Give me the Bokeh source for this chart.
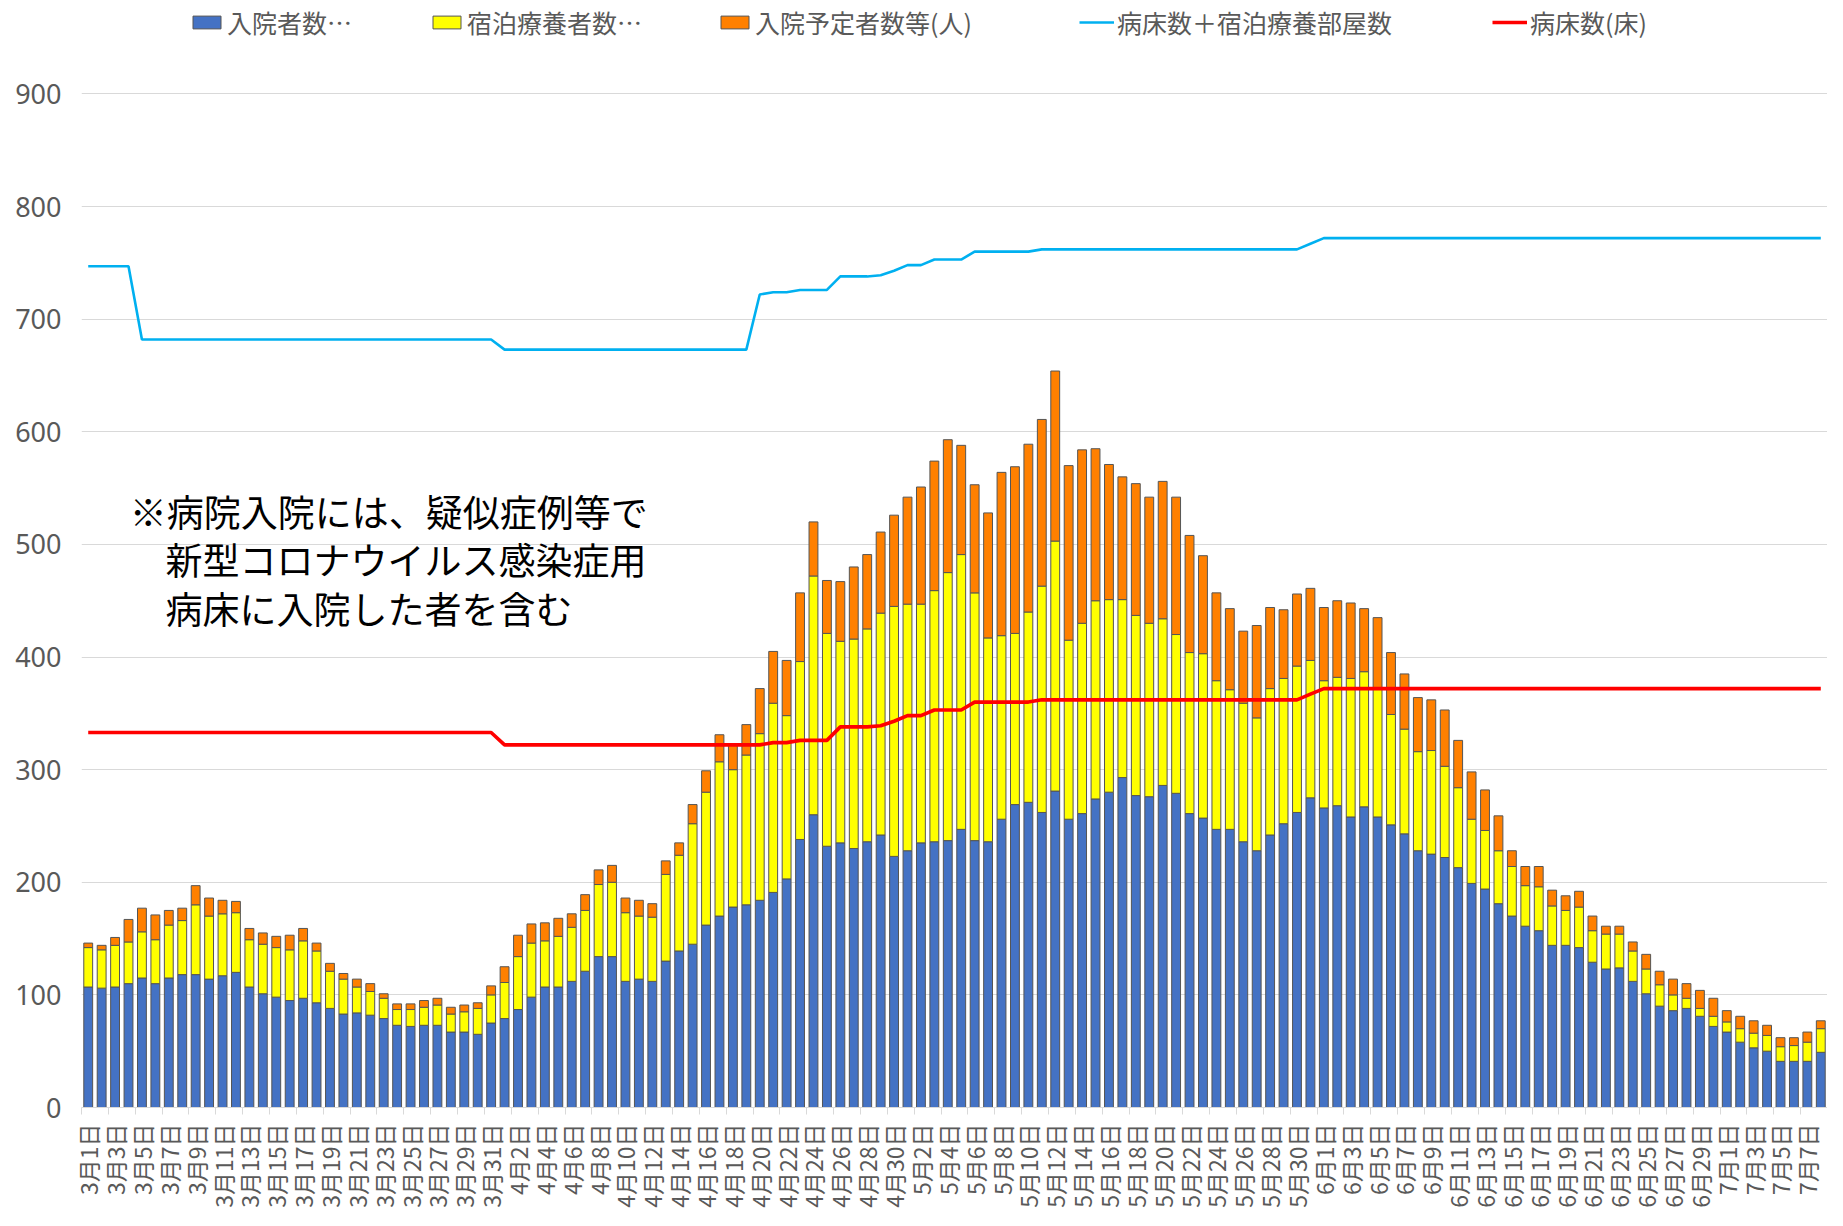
import math
import datetime
from bokeh.plotting import figure
from bokeh.models import ColumnDataSource, Range1d, FixedTicker, Legend, LegendItem, Label
from bokeh.embed import file_html
from bokeh.resources import INLINE

# ---- data (3/1 .. 7/8) ----
start_date = datetime.date(2020, 3, 1)
n_days = 130
date_labels = []
for i in range(n_days):
    d = start_date + datetime.timedelta(days=i)
    date_labels.append(f"{d.month}月{d.day}日")

hospitalized = [  # 入院者数
    107, 106, 107, 110, 115, 110, 115, 118, 118, 114, 117, 120, 107, 101, 98, 95, 97, 93, 88, 83,
    84, 82, 79, 73, 72, 73, 73, 67, 67, 65, 75,
    79, 87, 98, 107, 107, 112, 121, 134, 134, 112, 114, 112, 130, 139, 145, 162, 170, 178, 180, 184,
    191, 203, 238, 260, 232, 235, 230, 236, 242, 223,
    228, 235, 236, 237, 247, 237, 236, 256, 269, 271, 262, 281, 256, 261, 274, 280, 293, 277, 276, 286,
    279, 261, 257, 247, 247, 236, 228, 242, 252, 262, 275,
    266, 268, 258, 267, 258, 251, 243, 228, 225, 222, 213, 199, 194, 181, 170, 161, 157, 144, 144, 142,
    129, 123, 124, 112, 101, 90, 86, 88, 81, 72,
    67, 58, 53, 50, 41, 41, 41, 49,
]
hotel = [  # 宿泊療養者数
    35, 34, 37, 37, 41, 39, 47, 48, 62, 56, 55, 53, 42, 44, 44, 45, 51, 46, 33, 31,
    23, 21, 18, 14, 15, 16, 18, 16, 18, 23, 25,
    32, 47, 48, 41, 45, 48, 54, 64, 66, 61, 56, 57, 77, 85, 107, 118, 137, 122, 133, 148,
    168, 145, 158, 212, 189, 179, 186, 189, 197, 222,
    219, 212, 223, 238, 244, 220, 181, 163, 152, 169, 201, 222, 159, 169, 176, 171, 158, 160, 154, 148,
    141, 143, 146, 132, 124, 123, 118, 130, 129, 130, 122,
    113, 114, 123, 120, 114, 98, 93, 88, 92, 81, 71, 57, 52, 47, 44, 36, 39, 35, 31, 36,
    28, 31, 30, 27, 22, 19, 14, 9, 7, 9,
    9, 12, 13, 14, 13, 14, 17, 21,
]
planned = [  # 入院予定者数等(人)
    4, 4, 7, 20, 21, 22, 13, 11, 17, 16, 12, 10, 10, 10, 10, 13, 11, 7, 7, 5,
    7, 7, 4, 5, 5, 6, 6, 6, 6, 5, 8,
    14, 19, 17, 16, 16, 12, 14, 13, 15, 13, 14, 12, 12, 11, 17, 19, 24, 22, 27, 40,
    46, 49, 61, 48, 47, 53, 64, 66, 72, 81,
    95, 104, 115, 118, 97, 96, 111, 145, 148, 149, 148, 151, 155, 154, 135, 120, 109, 117, 112, 122,
    122, 104, 87, 78, 72, 64, 82, 72, 61, 64, 64,
    65, 68, 67, 56, 63, 55, 49, 48, 45, 50, 42, 42, 36, 31, 14, 17, 18, 14, 13, 14,
    13, 7, 7, 8, 13, 12, 14, 13, 16, 16,
    10, 11, 11, 9, 8, 7, 9, 7,
]
beds = (  # 病床数(床)
    [333] * 31 + [322] * 20 + [324, 324, 326, 326, 326, 338, 338, 338, 339, 343,
                               348, 348, 353, 353, 353, 360, 360, 360, 360, 360]
    + [362] * 20 + [367] + [372] * 38
)
beds_rooms = (  # 病床数＋宿泊療養部屋数
    [747] * 4 + [682] * 27 + [673] * 19 + [722, 724, 724, 726, 726, 726, 738, 738, 738, 739, 743,
                                          748, 748, 753, 753, 753, 760, 760, 760, 760, 760]
    + [762] * 20 + [767] + [772] * 38
)

y_ticks = list(range(0, 1000, 100))
note_lines = ["※病院入院には、疑似症例等で", "新型コロナウイルス感染症用", "病床に入院した者を含む"]
series_names = ["入院者数…", "宿泊療養者数…", "入院予定者数等(人)"]
line_names = ["病床数＋宿泊療養部屋数", "病床数(床)"]

xs = list(range(n_days))
src = ColumnDataSource(dict(x=xs, h=hospitalized, ho=hotel, pl=planned,
                            beds=beds, br=beds_rooms))

FONT = "Noto Sans CJK JP"
GRAY = "#595959"

W, H = 1827, 1210
TOP, BOTTOM, LEFT = 0, 97, 81
frame_h = H - TOP - BOTTOM
px_per_unit = (1113 - 94) / 900.0
y_top = frame_h / px_per_unit  # leaves room for the legend above the 900 line

p = figure(width=W, height=H, output_backend="svg", toolbar_location=None,
           x_range=Range1d(-0.5, n_days - 0.5), y_range=Range1d(0, y_top),
           min_border_left=LEFT, min_border_right=0, min_border_top=TOP, min_border_bottom=BOTTOM)
p.outline_line_color = None
p.background_fill_color = "white"

bars = p.vbar_stack(["h", "ho", "pl"], x="x", width=0.66, source=src,
                    fill_color=["#4472C4", "#FFFF00", "#FF8000"],
                    line_color="#555555", line_width=1)
l1 = p.line("x", "br", source=src, line_color="#00B0F0", line_width=2.6)
l2 = p.line("x", "beds", source=src, line_color="#FF0000", line_width=3.6)

# x axis
p.xaxis.ticker = FixedTicker(ticks=list(range(0, n_days, 2)),
                             minor_ticks=[i - 0.5 for i in range(0, n_days + 1, 2)])
p.xaxis.major_label_overrides = {i: date_labels[i] for i in range(0, n_days, 2)}
p.xaxis.major_label_orientation = math.pi / 2
p.xaxis.major_tick_line_color = None
p.xaxis.major_tick_out = 0
p.xaxis.major_tick_in = 0
p.xaxis.minor_tick_line_color = "#D9D9D9"
p.xaxis.minor_tick_out = 7
p.xaxis.minor_tick_in = 0
p.xaxis.axis_line_color = "#D9D9D9"
p.xaxis.major_label_text_font = FONT
p.xaxis.major_label_text_font_size = "23px"
p.xaxis.major_label_text_color = GRAY
p.xaxis.major_label_standoff = 9

# y axis
p.yaxis.ticker = FixedTicker(ticks=y_ticks)
p.yaxis.axis_line_color = None
p.yaxis.major_tick_line_color = None
p.yaxis.minor_tick_line_color = None
p.yaxis.major_label_text_font = "Noto Sans"
p.yaxis.major_label_text_font_size = "27px"
p.yaxis.major_label_text_color = GRAY
p.yaxis.major_label_standoff = 14

p.xgrid.visible = False
p.ygrid.ticker = FixedTicker(ticks=y_ticks[1:])
p.ygrid.grid_line_color = "#D9D9D9"
p.ygrid.grid_line_width = 1

# note text
note_pos = [(3.1, 530), (5.75, 487), (5.75, 444)]
for (tx, ty), t in zip(note_pos, note_lines):
    p.add_layout(Label(x=tx, y=ty, text=t, text_font=FONT, text_font_size="37px",
                       text_color="black", text_baseline="middle", text_align="left"))

# legend: one entry per legend box so each sits where the reference has it
legend_entries = [
    (series_names[0], bars[0], 108),
    (series_names[1], bars[1], 348),
    (series_names[2], bars[2], 636),
    (line_names[0], l1, 998),
    (line_names[1], l2, 1411),
]
for label, rend, lx in legend_entries:
    lg = Legend(items=[LegendItem(label=label, renderers=[rend])],
                location=(lx, 1067), padding=2, margin=0, spacing=0,
                glyph_width=35, glyph_height=16, label_standoff=3, label_height=30,
                label_text_font=FONT, label_text_font_size="25px", label_text_color=GRAY,
                border_line_color=None, background_fill_alpha=0)
    p.add_layout(lg)

open("out.html", "w").write(file_html(p, INLINE))
